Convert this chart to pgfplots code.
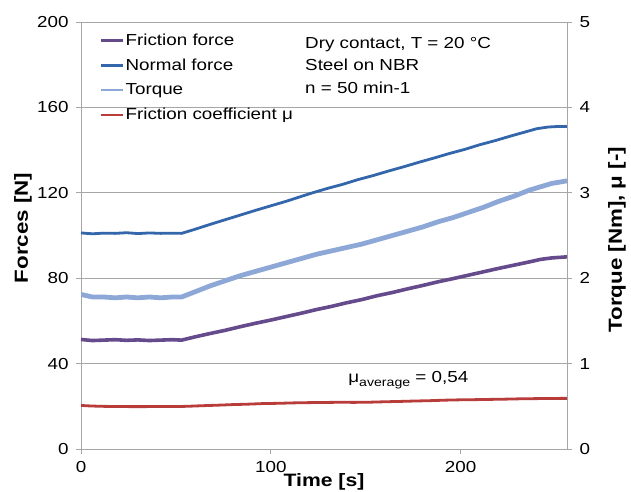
\documentclass[border=0pt]{standalone}
\usepackage{pgfplots}
\pgfplotsset{compat=1.18}
\usepackage{fontspec}
\setmainfont{Liberation Sans}[FakeStretch=1.18]

\definecolor{cfric}{HTML}{654A8C}
\definecolor{cnorm}{HTML}{3366AA}
\definecolor{ctorq}{HTML}{8DA8D6}
\definecolor{cmu}{HTML}{B83C3A}
\definecolor{cax}{HTML}{A6A6A6}

\newcommand{\fs}{\fontsize{16}{19}\selectfont}

\pgfplotsset{
  base/.style={
    width=486bp, height=427bp, scale only axis,
    xmin=0, xmax=256,
    axis line style={cax, line width=0.9bp},
    every tick/.append style={cax, line width=0.9bp},
    tick align=outside, major tick length=5bp,
    ticklabel style={font=\fs},
    /pgf/number format/assume math mode=true,
  },
}

\begin{document}
\begin{tikzpicture}
\begin{axis}[base, name=ax,
  ymin=0, ymax=200, ytick={0,40,...,200},
  xtick={0,100,200}, xtick pos=bottom, ytick pos=left,
  xticklabel style={yshift=-4bp},
  yticklabel style={xshift=-4bp},
  ymajorgrids, grid style={cax, line width=0.9bp},
  xlabel={\bfseries Time [s]},
  xlabel style={font=\fontsize{18}{20}\selectfont, at={(axis description cs:0.5,0)}, anchor=north, yshift=-21bp},
  ylabel={\bfseries Forces [N]},
  ylabel style={font=\fontsize{19}{21}\selectfont, at={(axis description cs:0,0.518)}, anchor=center, yshift=58bp},
  legend style={at={(0.039,0.975)}, anchor=north west, draw=none, fill=none,
    font=\fs, row sep=10bp, inner sep=0pt, nodes={inner sep=1bp}},
  legend cell align=left,
  legend image code/.code={\draw[#1, line width=2.5bp] (0bp,0bp) -- (22bp,0bp);},
]
\addplot[cfric, line width=3.6bp, line join=round] coordinates {
(0,51.3) (6,50.8) (12,51.0) (18,51.2) (24,50.9) (30,51.1) (36,50.8) (42,51.0)
(48,51.2) (53,51.0) (60,52.5) (68,54.1) (76,55.6) (84,57.3) (92,58.9) (100,60.4)
(108,62.0) (116,63.6) (124,65.3) (132,66.8) (140,68.5) (148,70.0) (156,71.8)
(164,73.3) (172,75.0) (180,76.6) (188,78.3) (196,79.8) (204,81.4) (212,83.0)
(220,84.6) (228,86.1) (236,87.6) (242,88.8) (248,89.5) (256,90.0)
};
\addlegendentry{Friction force}
\addplot[cnorm, line width=2.8bp, line join=round] coordinates {
(0,101.2) (6,100.8) (12,101.1) (18,101.0) (24,101.3) (30,100.9) (36,101.2)
(42,101.0) (48,101.1) (53,101.0) (60,102.9) (68,105.2) (76,107.4) (84,109.6)
(92,111.8) (100,113.9) (108,116.0) (116,118.3) (122,120.0) (130,122.1)
(138,124.0) (146,126.2) (154,128.1) (162,130.2) (170,132.2) (178,134.3)
(186,136.3) (194,138.4) (202,140.3) (210,142.5) (218,144.4) (226,146.5)
(234,148.5) (240,150.0) (246,150.8) (252,151.1) (256,151.0)
};
\addlegendentry{Normal force}
\addlegendimage{ctorq}
\addlegendentry{Torque}
\addlegendimage{cmu}
\addlegendentry{Friction coefficient μ}

\node[anchor=base west, font=\fs] at (axis cs:139,31)
  {μ\raisebox{-0.45ex}{\fontsize{12}{12}\selectfont average} = 0,54};
\node[anchor=north west, font=\fs, align=left, inner sep=0pt] at (axis cs:118,193)
  {Dry contact, T = 20 °C\\[3.5bp] Steel on NBR\\[3.5bp] n = 50 min-1};
\end{axis}

\begin{axis}[base,
  ymin=0, ymax=5, ytick={0,1,...,5},
  axis x line=none, axis y line*=right,
  yticklabel style={xshift=4bp},
  ylabel={\bfseries Torque [Nm], μ [-]},
  ylabel style={font=\fontsize{19}{21}\selectfont, at={(axis description cs:1,0.49)}, anchor=center, yshift=-50bp},
]
\addplot[ctorq, line width=4.8bp, line join=round] coordinates {
(0,1.81) (6,1.78) (12,1.78) (18,1.77) (24,1.78) (30,1.77) (36,1.78) (42,1.77)
(48,1.78) (53,1.78) (60,1.84) (68,1.91) (76,1.97) (84,2.03) (92,2.08) (100,2.13)
(108,2.18) (116,2.23) (124,2.28) (132,2.32) (140,2.36) (148,2.40) (156,2.45)
(164,2.50) (172,2.55) (180,2.60) (188,2.66) (196,2.71) (204,2.77) (212,2.83)
(220,2.90) (228,2.96) (236,3.03) (242,3.07) (248,3.11) (256,3.14)
};
\addplot[cmu, line width=2.8bp, line join=round] coordinates {
(0,0.51) (4,0.505) (10,0.50) (20,0.497) (30,0.496) (40,0.497) (50,0.497)
(56,0.50) (64,0.507) (72,0.513) (80,0.52) (88,0.525) (96,0.532) (104,0.535)
(112,0.54) (120,0.543) (128,0.545) (136,0.547) (144,0.546) (152,0.548)
(160,0.553) (168,0.557) (176,0.562) (184,0.566) (192,0.572) (200,0.576)
(208,0.578) (216,0.581) (224,0.584) (232,0.588) (240,0.59) (248,0.592) (256,0.593)
};
\end{axis}
\pgfresetboundingbox
\path ([xshift=-81bp,yshift=-43bp]ax.south west) rectangle ([xshift=64bp,yshift=22bp]ax.north east);
\end{tikzpicture}
\end{document}
